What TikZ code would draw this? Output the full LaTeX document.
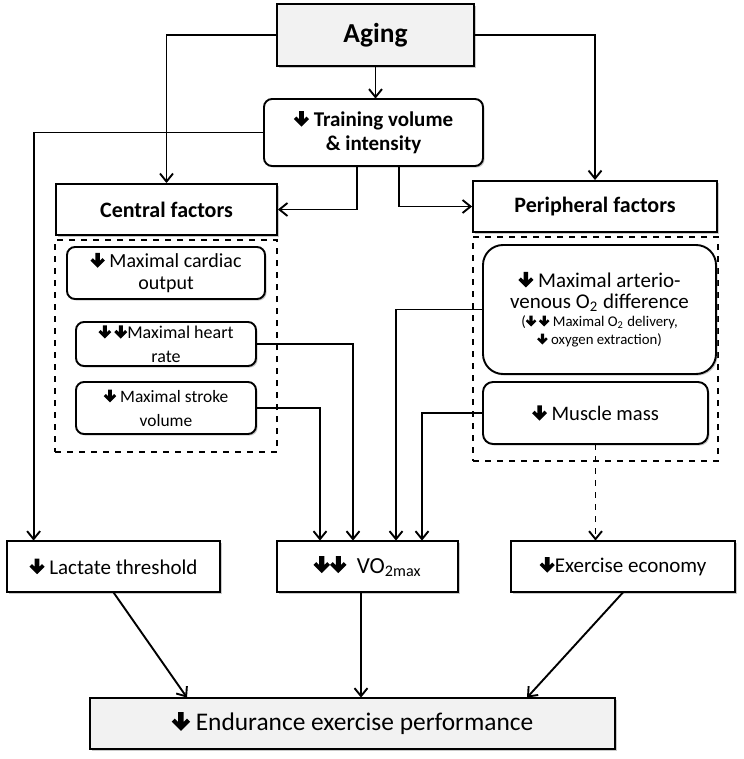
\documentclass[tikz,border=0pt]{standalone}
\usepackage{fontspec}
\setmainfont{Carlito}
\definecolor{boxgray}{RGB}{242, 242, 242}
\definecolor{shadowgray}{RGB}{150, 150, 150}
\usetikzlibrary{arrows.meta,positioning,shadows,calc}
\newcommand{\dn}{\tikz[baseline=0pt, x=1em, y=1em, sharp corners]\fill[black, solid, sharp corners] (0,0) -- (0.36,0.36) -- (0.24,0.48) -- (0.11,0.35) -- (0.11,0.74) -- (-0.11,0.74) -- (-0.11,0.35) -- (-0.24,0.48) -- (-0.36,0.36) -- cycle;}
\newcommand{\fs}[1]{\fontsize{#1}{1.2\dimexpr#1pt\relax}\selectfont}

\begin{document}
\begin{tikzpicture}[x=0.5pt, y=-0.5pt, line width=0.95pt,
    box/.style={rectangle, draw=black, fill=white, align=center, inner sep=1pt, drop shadow={shadow xshift=0.8pt, shadow yshift=-0.8pt, fill=shadowgray}},
    roundbox/.style={box, rounded corners=4pt},
    group/.style={rectangle, draw=black, dashed, line width=0.6pt, inner sep=0pt},
    arr/.style={-{Straight Barb[length=4pt, width=6.5pt]}}]
    \useasboundingbox (0,0) rectangle (743,759);

    \node[box, fill=boxgray, minimum width=98.5pt, minimum height=31pt] (aging) at (375.5,35) {\fs{13.7}\textbf{Aging}};

    \node[roundbox, minimum width=109.5pt, minimum height=33.5pt] (train) at (373.5,132.5) {\fs{10.5}\textbf{\dn\ Training volume}\\\fs{10.5}\textbf{\& intensity}};

    \node[box, minimum width=110.5pt, minimum height=25.5pt] (central) at (166.5,209.5) {\fs{11}\textbf{Central factors}};

    \node[box, minimum width=122pt, minimum height=25.5pt] (periph) at (595,206.5) {\fs{11}\textbf{Peripheral factors}};

    \node[group, minimum width=111pt, minimum height=106pt] (cgroup) at (166,346) {};
    \node[group, minimum width=122.5pt, minimum height=112pt] (pgroup) at (595.5,349) {};

    \node[roundbox, minimum width=99pt, minimum height=26pt] (cardiac) at (166,273) {\fs{10}\dn\ Maximal cardiac\\[-1pt]\fs{10}output};

    \node[roundbox, minimum width=90pt, minimum height=22pt] (hrate) at (166,344) {\fs{9}\dn\,\dn Maximal heart\\\fs{9}rate};

    \node[roundbox, minimum width=90pt, minimum height=26pt] (stroke) at (166,408) {\fs{8.7}\dn\ Maximal stroke\\\fs{8.7}volume};

    \node[box, rounded corners=10pt, minimum width=116.5pt, minimum height=64.5pt] (avdiff) at (599.5,309.5) {\fs{10.5}\dn\ Maximal arterio-\\[-1.5pt]\fs{10.5}venous O\textsubscript{2} difference\\[-3pt]\fs{7.4}(\dn\,\dn\ Maximal O\textsubscript{2} delivery,\\[-3pt]\fs{7.4}\dn\ oxygen extraction)};

    \node[box, rounded corners=5pt, minimum width=112.5pt, minimum height=31pt] (muscle) at (595.5,413) {\fs{10.3}\dn\ Muscle mass};

    \node[box, minimum width=106.5pt, minimum height=25.5pt] (lactate) at (113.5,566.5) {\fs{10.5}\dn\ Lactate threshold};

    \node[box, minimum width=90.5pt, minimum height=25.5pt] (vo2) at (367.5,566.5) {\fs{11.5}\dn\dn\ \ VO\textsubscript{2max}};

    \node[box, minimum width=112pt, minimum height=25.5pt] (econ) at (623,566.5) {\fs{10.5}\dn Exercise economy};

    \node[box, fill=boxgray, minimum width=262.5pt, minimum height=25.5pt] (endur) at (352.5,723.5) {\fs{12.7}\dn\ Endurance exercise performance};

    \draw[arr] (aging.south) -- (aging.south |- train.north);
    \draw[arr] (aging.west) -| (central.north);
    \draw[arr] (aging.east) -| (periph.north);
    \draw[arr] (train.west) -| ($(lactate.north west)+(27,0)$);
    \draw[arr] ([xshift=-8.25pt]train.south) |- (central.east);
    \draw[arr] ([xshift=12.75pt]train.south) |- (periph.west);

    \draw[arr] (hrate.east) -| ([xshift=-7.25pt]vo2.north);
    \draw[arr] (stroke.east) -| ([xshift=-23.75pt]vo2.north);
    \draw[arr] (avdiff.west) -| ([xshift=14.25pt]vo2.north);
    \draw[arr] (muscle.west) -| ([xshift=27.25pt]vo2.north);
    \draw[arr, dashed] (muscle.south) -- (muscle.south |- econ.north);

    \draw[arr] (lactate.south) -- ([xshift=-82.75pt]endur.north);
    \draw[arr] ([xshift=-3.25pt]vo2.south) -- ([xshift=-3.25pt]vo2.south |- endur.north);
    \draw[arr] (econ.south) -- ([xshift=87.25pt]endur.north);
\end{tikzpicture}
\end{document}
